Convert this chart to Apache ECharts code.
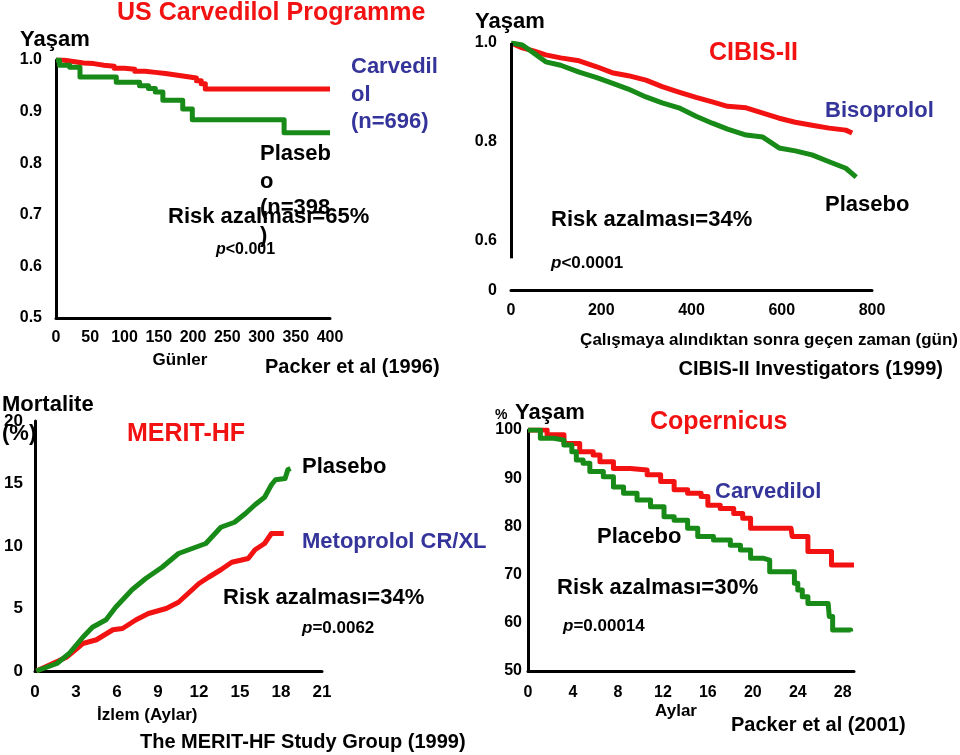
<!DOCTYPE html>
<html><head><meta charset="utf-8">
<script src="https://cdn.jsdelivr.net/npm/echarts@6/dist/echarts.min.js"></script>
<style>html,body{margin:0;padding:0;background:#fff}#c{width:960px;height:755px}</style>
</head><body><div id="c"></div>
<script>
// ---------- DATA ----------
// Panel 1: US Carvedilol Programme (days, survival)
const usCarvedilol = [[0,1.0],[10,0.997],[25,0.994],[40,0.993],[55,0.99],[70,0.988],[85,0.984],[100,0.982],[115,0.978],[130,0.976],[145,0.974],[160,0.971],[175,0.968],[190,0.965],[205,0.96],[212,0.954],[218,0.944],[400,0.944]];
const usPlacebo = [[0,1.0],[5,0.99],[20,0.986],[35,0.967],[80,0.967],[88,0.957],[112,0.957],[122,0.95],[135,0.945],[145,0.938],[156,0.922],[174,0.922],[185,0.905],[199,0.884],[330,0.884],[333,0.859],[400,0.859]];
const usXTicks = [0,50,100,150,200,250,300,350,400];
const usYTicks = ['0.5','0.6','0.7','0.8','0.9','1.0'];

// Panel 2: CIBIS-II (days, survival)
const cibisBisoprolol = [[0,1.0],[25,0.99],[50,0.984],[77,0.976],[110,0.97],[151,0.964],[190,0.952],[224,0.94],[260,0.934],[299,0.925],[335,0.912],[372,0.901],[410,0.89],[446,0.881],[480,0.872],[521,0.869],[560,0.858],[594,0.848],[630,0.84],[667,0.834],[705,0.828],[742,0.824],[756,0.818]];
const cibisPlacebo = [[0,1.0],[25,0.996],[50,0.98],[77,0.962],[110,0.955],[151,0.941],[190,0.93],[224,0.919],[260,0.907],[299,0.891],[335,0.879],[372,0.869],[410,0.852],[446,0.838],[480,0.826],[521,0.814],[558,0.81],[594,0.788],[630,0.782],[667,0.774],[705,0.76],[742,0.747],[765,0.729]];
const cibisYLabels = {'0.5':'0','0.6':'0.6','0.8':'0.8','1':'1.0'};
const cibisAxisSegment = [[0,0.565],[0,1.0]];

// Panel 3: MERIT-HF (months, mortality %)
const meritPlacebo = [[0.1,0],[1.6,0.6],[2.5,1.4],[3.5,2.7],[4.2,3.5],[5.2,4.1],[5.9,5.1],[7.1,6.5],[8.1,7.4],[9.3,8.3],[10.5,9.4],[11.5,9.8],[12.5,10.2],[13.6,11.5],[14.6,11.9],[15.4,12.6],[16.1,13.3],[16.8,13.9],[17.3,14.9],[17.6,15.3],[18.3,15.4],[18.5,16.1],[18.7,16.2]];
const meritMetoprolol = [[0.1,0],[2.3,1.1],[3.5,2.2],[4.5,2.5],[5.7,3.3],[6.4,3.4],[7.4,4.1],[8.3,4.6],[9.6,5.0],[10.5,5.5],[11.2,6.2],[12.0,7.0],[12.7,7.5],[13.6,8.1],[14.4,8.7],[15.6,9.0],[16.1,9.7],[16.8,10.2],[17.3,11.0],[18.2,11.0]];

// Panel 4: COPERNICUS (months, survival %)
const copCarvedilol = [[0,100],[0.2,100],[1.7,99],[3.2,97.2],[4.6,95.5],[5.8,94.8],[6.4,93.4],[7.6,92],[9.1,91.7],[10.6,90.7],[11.8,89.3],[13,87.6],[14.2,86.9],[15.4,86.2],[16,84.4],[17.1,83.7],[18.3,82.7],[19.1,81.7],[19.8,79.6],[23.4,79.3],[23.5,77.9],[24.7,77.9],[24.9,74.8],[26.8,74.8],[27,72],[29,72]];
const copPlacebo = [[0,100],[0.2,100],[1.1,98.3],[2.3,97.9],[3.2,96.9],[3.9,95.5],[4.3,93.8],[4.9,93.1],[5.5,91.4],[6.7,90.3],[7.6,88.2],[8.5,86.9],[9.7,85.5],[10.9,84.1],[12.1,82],[13,81.3],[14.2,79.6],[15.1,77.9],[16.5,77.2],[18,76.1],[18.9,75.1],[19.8,73.4],[20.9,73],[21.5,70.6],[23.2,70.6],[23.7,68.2],[24,66.8],[24.4,65.4],[24.9,64],[26.7,64],[26.8,61.3],[27.1,58.5],[28.7,58.2]];

// ---------- STYLE ----------
const FF = 'Liberation Sans, Arial, sans-serif';
const RED = '#f21212', GREEN = '#178a17', BLUE = '#34349a';
const chart = echarts.init(document.getElementById('c'));

function axisBase(extra){
  return Object.assign({
    axisLine:{show:true,onZero:false,lineStyle:{color:'#000',width:3}},
    axisTick:{show:false}, splitLine:{show:false},
    axisLabel:{color:'#000',fontFamily:FF,fontWeight:'bold',fontSize:16}
  }, extra);
}
function txt(t,x,y,size,color,opts){
  opts = opts||{};
  return {type:'text',x:x,y:y,z:100,style:{text:t,fill:color||'#000',
    font:(opts.italic?'italic ':'')+(opts.weight||'bold')+' '+size+'px '+FF,
    align:opts.align||'left',verticalAlign:'middle',rich:opts.rich}};
}
function ptxt(pre,rest,x,y,size){
  return {type:'text',x:x,y:y,z:100,style:{text:'{i|'+pre+'}{n|'+rest+'}',verticalAlign:'middle',
    rich:{i:{fontFamily:FF,fontStyle:'italic',fontWeight:'bold',fontSize:size,fill:'#000'},
          n:{fontFamily:FF,fontWeight:'bold',fontSize:size,fill:'#000'}}}};
}
function line(data,color,xi,step,extra){
  return Object.assign({type:'line',data:data,xAxisIndex:xi,yAxisIndex:xi,step:step||false,
    showSymbol:false,symbol:'none',lineStyle:{color:color,width:5,join:'round'},
    itemStyle:{color:color},animation:false,silent:true},extra||{});
}

const option = {
  backgroundColor:'#fff',
  animation:false,
  grid:[
    {left:56,top:60,width:274,height:258},
    {left:511,top:43,width:361,height:247.5},
    {left:35,top:421,width:287,height:250},
    {left:528,top:430,width:326,height:241}
  ],
  xAxis:[
    axisBase({type:'value',gridIndex:0,min:usXTicks[0],max:usXTicks[usXTicks.length-1],interval:50,
      axisLabel:{color:'#000',fontFamily:FF,fontWeight:'bold',fontSize:16,margin:12}}),
    axisBase({type:'value',gridIndex:1,min:0,max:800,interval:200,
      axisLabel:{color:'#000',fontFamily:FF,fontWeight:'bold',fontSize:16,margin:12}}),
    axisBase({type:'value',gridIndex:2,min:0,max:21,interval:3,
      axisLabel:{color:'#000',fontFamily:FF,fontWeight:'bold',fontSize:17,margin:13}}),
    axisBase({type:'value',gridIndex:3,min:0,max:29,interval:4,
      axisLabel:{color:'#000',fontFamily:FF,fontWeight:'bold',fontSize:16,margin:14,
        formatter:v=> (v%4===0 ? String(v) : '')}})
  ],
  yAxis:[
    axisBase({type:'value',gridIndex:0,min:0.5,max:1.0,interval:0.1,
      axisLabel:{color:'#000',fontFamily:FF,fontWeight:'bold',fontSize:16,margin:14,
        formatter:v=>usYTicks[Math.round((v-0.5)*10)]}}),
    axisBase({type:'value',gridIndex:1,min:0.5,max:1.0,interval:0.1,
      axisLine:{show:false},
      axisLabel:{color:'#000',fontFamily:FF,fontWeight:'bold',fontSize:16,margin:14,
        formatter:v=>{const k=String(Math.round(v*10)/10);return cibisYLabels[k]||'';}}}),
    axisBase({type:'value',gridIndex:2,min:0,max:20,interval:5,
      axisLabel:{color:'#000',fontFamily:FF,fontWeight:'bold',fontSize:17,margin:12}}),
    axisBase({type:'value',gridIndex:3,min:50,max:100,interval:10,
      axisLabel:{color:'#000',fontFamily:FF,fontWeight:'bold',fontSize:16,margin:6}})
  ],
  series:[
    line(usCarvedilol,RED,0,'end'),
    line(usPlacebo,GREEN,0,'end'),
    line(cibisBisoprolol,RED,1,false,{markLine:{silent:true,symbol:'none',animation:false,label:{show:false},
      lineStyle:{color:'#000',width:3,type:'solid'},
      data:[[{coord:cibisAxisSegment[0]},{coord:cibisAxisSegment[1]}]]}}),
    line(cibisPlacebo,GREEN,1,false),
    line(meritMetoprolol,RED,2,false),
    line(meritPlacebo,GREEN,2,false),
    line(copCarvedilol,RED,3,'end'),
    line(copPlacebo,GREEN,3,'end')
  ],
  graphic:[
    // Panel 1
    txt('US Carvedilol Programme',117,13,25,RED),
    txt('Yaşam',20,40,22),
    txt('Carvedil',351,67,22,BLUE),
    txt('ol',351,95,22,BLUE),
    txt('(n=696)',351,122,22,BLUE),
    txt('Plaseb',260,154,22),
    txt('o',260,182,22),
    txt('(n=398',260,208,22),
    txt(')',260,236,22),
    txt('Risk azalması=65%',168,217,22),
    ptxt('p','<0.001',216,250,16),
    txt('Günler',180,360,17,'#000',{align:'center'}),
    txt('Packer et al (1996)',265,367,20),
    // Panel 2
    txt('Yaşam',475,22,22),
    txt('CIBIS-II',709,53,25,RED),
    txt('Bisoprolol',825,111,22,BLUE),
    txt('Plasebo',825,205,22),
    txt('Risk azalması=34%',551,220,22),
    ptxt('p','<0.0001',551,263,17),
    txt('Çalışmaya alındıktan sonra geçen zaman (gün)',958,340,17,'#000',{align:'right'}),
    txt('CIBIS-II Investigators (1999)',943,369,20,'#000',{align:'right'}),
    // Panel 3
    txt('Mortalite',2,405,22),
    txt('(%)',2,434,22),
    txt('MERIT-HF',127,434,25,RED),
    txt('Plasebo',302,467,22),
    txt('Metoprolol CR/XL',302,542,22,BLUE),
    txt('Risk azalması=34%',223,598,22),
    ptxt('p','=0.0062',302,628,17),
    txt('İzlem (Aylar)',97,715,17),
    txt('The MERIT-HF Study Group (1999)',140,742,20),
    // Panel 4
    txt('%',495,415,14),
    txt('Yaşam',515,413,22),
    txt('Copernicus',650,422,25,RED),
    txt('Carvedilol',715,492,22,BLUE),
    txt('Placebo',597,537,22),
    txt('Risk azalması=30%',557,588,22),
    ptxt('p','=0.00014',563,626,17),
    txt('Aylar',676,711,17,'#000',{align:'center'}),
    txt('Packer et al (2001)',731,725,20)
  ]
};
chart.setOption(option);
</script></body></html>
